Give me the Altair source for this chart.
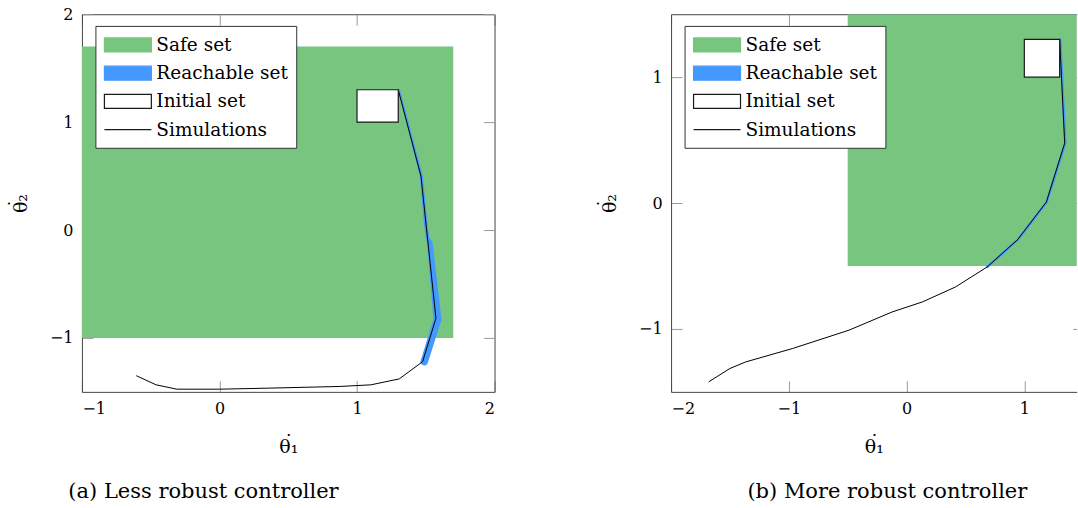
import altair as alt
import pandas as pd

# ---------------- shared styling ----------------
FONT = "DejaVu Serif"
GREEN = "#78c57f"
BLUE = "#4499ff"
FRAME = "#444444"
TICK = 11
NBSP = "\u00a0"
# theta-dot titles: the dot sits on its own line just above the theta
X_TITLE = ["\u02d9" + NBSP, "\u03b8\u2081"]
Y_TITLE = ["\u02d9" + NBSP, "\u03b8\u2082"]

legend_items = ["Safe set", "Reachable set", "Initial set", "Simulations"]
legend_fill = [GREEN, BLUE, "white", "transparent"]
legend_stroke = [GREEN, BLUE, "#1a1a1a", "#1a1a1a"]
# wide swatches (path units are scaled by sqrt(size)/2)
SWATCH = "M-1,-0.7H3.7V0.7H-1Z"
STROKE = "M-1,0H3.7"
legend_shapes = [SWATCH, SWATCH, SWATCH, STROKE]

# ---------------- (a) less robust controller ----------------
a_x_domain = [-1.0, 2.0]
a_y_domain = [-1.5, 2.0]
a_x_ticks = [-1, 0, 1, 2]
a_y_ticks = [-1, 0, 1, 2]
a_safe_x = [-1.0, 1.7]
a_safe_y = [-1.0, 1.7]
a_init_x = [1.0, 1.3]
a_init_y = [1.0, 1.3]
a_sim_x = [1.30, 1.465, 1.574, 1.477, 1.307, 1.10, 0.87, 0.34, 0.0, -0.31, -0.46, -0.605]
a_sim_y = [1.30, 0.50, -0.818, -1.22, -1.38, -1.435, -1.45, -1.466, -1.475, -1.475, -1.435, -1.35]
a_reach_x = [1.305, 1.468, 1.500, 1.515, 1.530, 1.585, 1.489]
a_reach_y = [1.30, 0.50, 0.05, -0.08, -0.12, -0.83, -1.22]
a_reach_w = [2.0, 3.0, 3.5, 3.5, 5.5, 8.0, 7.5]

# ---------------- (b) more robust controller ----------------
# the x range is cut at the right edge of the figure
b_x_domain = [-2.0, 1.4448]
b_y_domain = [-1.5, 1.5]
b_x_ticks = [-2, -1, 0, 1]
b_y_ticks = [-1, 0, 1]
b_safe_x = [-0.5, 1.5]
b_safe_y = [-0.5, 1.5]
b_init_x = [1.0, 1.3]
b_init_y = [1.0, 1.3]
b_sim_x = [1.30, 1.343, 1.187, 0.944, 0.684, 0.415, 0.133, -0.122, -0.489, -0.97, -1.366, -1.50, -1.68]
b_sim_y = [1.30, 0.476, 0.008, -0.29, -0.508, -0.667, -0.786, -0.865, -1.01, -1.156, -1.262, -1.314, -1.42]
b_reach_x = [1.305, 1.348, 1.190, 0.946, 0.684]
b_reach_y = [1.30, 0.476, 0.008, -0.29, -0.508]
b_reach_w = [2.5, 2.5, 2.5, 2.5, 2.5]


def frame_axis(orient):
    return alt.Axis(orient=orient, domain=True, domainColor=FRAME, domainWidth=1,
                    ticks=False, labels=False, grid=False, title=None)


def panel(x_dom, y_dom, x_ticks, y_ticks, safe_x, safe_y, init_x, init_y,
          sim_x, sim_y, reach_x, reach_y, reach_w, width, height, caption, cap_dx,
          right_tick, right_frame):
    xs = alt.Scale(domain=x_dom, nice=False, zero=False)
    ys = alt.Scale(domain=y_dom, nice=False, zero=False)

    # labelled axes with inward ticks (axis pulled inside by the tick length)
    x_main = alt.Axis(orient="bottom", values=x_ticks, format="d", offset=-TICK,
                      tickSize=TICK, domain=False, grid=False, labelPadding=9,
                      title=X_TITLE, titlePadding=16, titleLineHeight=5)
    y_main = alt.Axis(orient="left", values=y_ticks, format="d", offset=-TICK,
                      tickSize=TICK, domain=False, grid=False, labelPadding=9,
                      title=Y_TITLE, titlePadding=19, titleLineHeight=5)
    # mirrored tick-only axes on the opposite sides
    x_top = alt.Axis(orient="top", values=x_ticks, offset=-TICK, tickSize=TICK,
                     domain=False, grid=False, labels=False, title=None)
    y_right = alt.Axis(orient="right", values=y_ticks, offset=-right_tick,
                       tickSize=right_tick, domain=False, grid=False, labels=False,
                       title=None)

    safe_df = pd.DataFrame({"x1": [safe_x[0]], "x2": [safe_x[1]],
                            "y1": [safe_y[0]], "y2": [safe_y[1]]})
    safe = alt.Chart(safe_df).mark_rect(color=GREEN, clip=True).encode(
        x=alt.X("x1:Q", scale=xs, axis=x_main), x2="x2:Q",
        y=alt.Y("y1:Q", scale=ys, axis=y_main), y2="y2:Q")

    reach_df = pd.DataFrame({"x": reach_x, "y": reach_y, "w": reach_w,
                             "k": list(range(len(reach_x)))})
    reach = alt.Chart(reach_df).mark_trail(color=BLUE, clip=True).encode(
        x=alt.X("x:Q", scale=xs, axis=frame_axis("bottom")),
        y=alt.Y("y:Q", scale=ys, axis=frame_axis("left")),
        size=alt.Size("w:Q", scale=None, legend=None), order="k:Q")

    sim_df = pd.DataFrame({"x": sim_x, "y": sim_y, "k": list(range(len(sim_x)))})
    sim = alt.Chart(sim_df).mark_line(color="black", strokeWidth=1, clip=True).encode(
        x=alt.X("x:Q", scale=xs, axis=frame_axis("top")),
        y=alt.Y("y:Q", scale=ys, axis=frame_axis("right") if right_frame else None),
        order="k:Q")

    init_df = pd.DataFrame({"x1": [init_x[0]], "x2": [init_x[1]],
                            "y1": [init_y[0]], "y2": [init_y[1]]})
    init = alt.Chart(init_df).mark_rect(fill="white", stroke="#1a1a1a",
                                        strokeWidth=1.2).encode(
        x=alt.X("x1:Q", scale=xs, axis=x_top), x2="x2:Q",
        y=alt.Y("y1:Q", scale=ys, axis=y_right), y2="y2:Q")

    leg = alt.Legend(title=None, orient="none", legendX=13.5, legendY=11.7,
                     padding=8, fillColor="white", strokeColor="#333",
                     labelFont=FONT, labelFontSize=18.5, labelColor="black",
                     labelOffset=31, rowPadding=7.3, symbolSize=400,
                     symbolStrokeWidth=1.2, symbolOpacity=1)
    key_df = pd.DataFrame({"item": legend_items, "x": [None] * 4, "y": [None] * 4})
    key = alt.Chart(key_df).mark_point(filled=True, size=400, opacity=1).encode(
        x=alt.X("x:Q", scale=xs, axis=None), y=alt.Y("y:Q", scale=ys, axis=None),
        fill=alt.Fill("item:N", scale=alt.Scale(domain=legend_items, range=legend_fill), legend=leg),
        stroke=alt.Stroke("item:N", scale=alt.Scale(domain=legend_items, range=legend_stroke), legend=leg),
        shape=alt.Shape("item:N", scale=alt.Scale(domain=legend_items, range=legend_shapes), legend=leg))

    return alt.layer(safe, reach, sim, init, key).resolve_axis(
        x="independent", y="independent").properties(
        width=width, height=height,
        title=alt.TitleParams(caption, orient="bottom", anchor="middle", frame="group",
                              dx=cap_dx, offset=24, font=FONT, fontSize=21,
                              fontWeight="normal", color="black"))


left = panel(a_x_domain, a_y_domain, a_x_ticks, a_y_ticks, a_safe_x, a_safe_y,
             a_init_x, a_init_y, a_sim_x, a_sim_y, a_reach_x, a_reach_y, a_reach_w,
             413, 378, "(a) Less robust controller", -84.8, TICK, True)
right = panel(b_x_domain, b_y_domain, b_x_ticks, b_y_ticks, b_safe_x, b_safe_y,
              b_init_x, b_init_y, b_sim_x, b_sim_y, b_reach_x, b_reach_y, b_reach_w,
              406, 378, "(b) More robust controller", 13.5, 4, False)

chart = alt.hconcat(left, right, spacing=176.7, bounds="flush").resolve_scale(
    fill="independent", stroke="independent", shape="independent").resolve_legend(
    fill="independent", stroke="independent", shape="independent").properties(
    padding={"left": 5, "top": 5, "right": 0, "bottom": 0},
    background="white").configure(font=FONT).configure_view(
    stroke="transparent").configure_axis(
    labelFont=FONT, labelFontSize=16, labelColor="black",
    titleFont=FONT, titleFontSize=19, titleColor="black", titleFontWeight="normal",
    titleFontStyle="normal", tickColor="#9a9a9a", tickWidth=1)

chart.save("out.html", embed_options={"renderer": "svg", "actions": False})
